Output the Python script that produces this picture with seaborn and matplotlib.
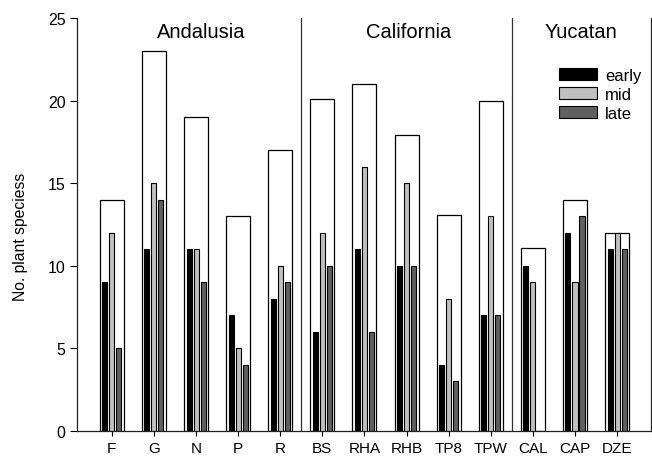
import pandas as pd
import seaborn as sns
import matplotlib.pyplot as plt
from matplotlib.patches import Patch

sites = ['F', 'G', 'N', 'P', 'R', 'BS', 'RHA', 'RHB', 'TP8', 'TPW', 'CAL', 'CAP', 'DZE']
total = [14, 23, 19, 13, 17, 20.1, 21, 17.9, 13.1, 20, 11.1, 14, 12]
early = [9, 11, 11, 7, 8, 6, 11, 10, 4, 7, 10, 12, 11]
mid = [12, 15, 11, 5, 10, 12, 16, 15, 8, 13, 9, 9, 12]
late = [5, 14, 9, 4, 9, 10, 6, 10, 3, 7, 0, 13, 11]
regions = ['Andalusia', 'California', 'Yucatan']
region_x = [2.13, 7.05, 11.15]

phases = ['early', 'mid', 'late']
colors = {'early': '#000000', 'mid': '#c0c0c0', 'late': '#606060'}

df = pd.DataFrame({'site': sites, 'total': total})
long = pd.DataFrame({'site': sites * 3,
                     'phase': ['early'] * 13 + ['mid'] * 13 + ['late'] * 13,
                     'n': early + mid + late})

sns.set_style('ticks')
plt.rcParams['font.family'] = ['Liberation Sans', 'DejaVu Sans']
plt.rcParams['text.color'] = 'black'
plt.rcParams['axes.labelcolor'] = 'black'
plt.rcParams['xtick.color'] = 'black'
plt.rcParams['ytick.color'] = 'black'

fig = plt.figure(figsize=(6.52, 4.6), dpi=100)
ax = fig.add_axes([0.1186, 0.0609, 0.8795, 0.8978])

# outline bars = total species per site
sns.barplot(data=df, x='site', y='total', order=sites, color='white',
            edgecolor='black', linewidth=0.9, width=0.57, ax=ax)
# thin bars per flowering phase
sns.barplot(data=long, x='site', y='n', hue='phase', order=sites, hue_order=phases,
            palette=colors, edgecolor='black', linewidth=0.8, width=0.5, gap=0.28,
            saturation=1, ax=ax, legend=False)

ax.axvline(4.5, color='#333333', lw=0.9)
ax.axvline(9.5, color='#333333', lw=0.9)
for r, xr in zip(regions, region_x):
    ax.text(xr, 24.2, r, ha='center', va='center', fontsize=14.5)

ax.set_xlim(-0.82, 12.8)
ax.set_ylim(0, 25)
ax.set_yticks([0, 5, 10, 15, 20, 25])
ax.set_xlabel('')
ax.set_ylabel('No. plant speciess', fontsize=11.3)
ax.yaxis.set_label_coords(-0.086, 0.473)
ax.tick_params(labelsize=11.5, width=0.8, direction='out')
ax.tick_params(axis='x', length=3.5, pad=4, labelsize=11)
ax.tick_params(axis='y', length=5, pad=3.5)
ax.spines['top'].set_visible(False)
ax.spines['right'].set_visible(True)
for s in ['left', 'bottom', 'right']:
    ax.spines[s].set_linewidth(0.9)
    ax.spines[s].set_color('#222222')

handles = [Patch(facecolor=colors[p], edgecolor='black', linewidth=0.8, label=p) for p in phases]
ax.legend(handles=handles, loc='upper left', bbox_to_anchor=(0.84, 0.88), frameon=False,
          borderpad=0, borderaxespad=0, handlelength=2.3, handleheight=0.75,
          handletextpad=0.45, labelspacing=0.25, fontsize=12)

fig.savefig('out.png', dpi=100)
